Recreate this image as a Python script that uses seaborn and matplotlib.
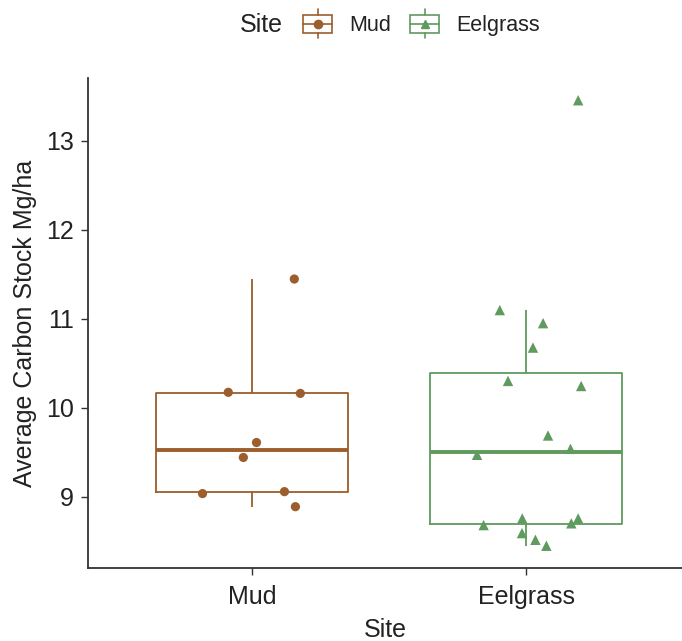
import numpy as np
import pandas as pd
import matplotlib
matplotlib.use("Agg")
import matplotlib.pyplot as plt
from matplotlib.legend_handler import HandlerBase
from matplotlib.patches import Rectangle
from matplotlib.lines import Line2D
import seaborn as sns

# ---- data ----
sites = ["Mud", "Eelgrass"]
mud_values = [11.445, 10.172, 10.160, 9.608, 9.440, 9.034, 9.056, 8.887]
mud_jitter = [0.153, -0.088, 0.175, 0.015, -0.033, -0.182, 0.117, 0.157]
eelgrass_values = [13.454, 11.096, 10.949, 10.675, 10.300, 10.243, 9.687, 9.537,
                   9.470, 8.755, 8.680, 8.755, 8.700, 8.590, 8.515, 8.448]
eelgrass_jitter = [0.189, -0.097, 0.061, 0.024, -0.067, 0.200, 0.079, 0.161,
                   -0.180, -0.015, -0.156, 0.189, 0.164, -0.016, 0.033, 0.073]
y_ticks = [9, 10, 11, 12, 13]

colors = {"Mud": "#9B5E2C", "Eelgrass": "#5F9A5F"}
markers = {"Mud": "o", "Eelgrass": "^"}
msizes = {"Mud": 44, "Eelgrass": 56}

df = pd.DataFrame({
    "Site": ["Mud"] * len(mud_values) + ["Eelgrass"] * len(eelgrass_values),
    "Carbon": mud_values + eelgrass_values,
    "jit": mud_jitter + eelgrass_jitter,
})
df["Site"] = pd.Categorical(df["Site"], categories=sites, ordered=True)
df["xpos"] = df["Site"].cat.codes + df["jit"]

sns.set_theme(style="ticks")
plt.rcParams["font.family"] = ["Liberation Sans", "DejaVu Sans"]

fig = plt.figure(figsize=(6.82, 6.41), dpi=100)
W, H = 682, 641
ax = fig.add_axes([88 / W, (H - 568) / H, (W - 88) / W, (568 - 78) / H])

sns.boxplot(data=df, x="Site", y="Carbon", hue="Site", palette=colors, order=sites,
            hue_order=sites, fill=False, width=0.7, showfliers=False, whis=1.5,
            linewidth=1.3, showcaps=False, legend=False, ax=ax,
            medianprops=dict(linewidth=2.8), dodge=False)

for site in sites:
    sub = df[df["Site"] == site]
    ax.scatter(sub["xpos"], sub["Carbon"], marker=markers[site], s=msizes[site],
               color=colors[site], edgecolors="none", zorder=5)

ax.set_xlim(-0.6, 1.568)
ax.set_ylim(8.198, 13.704)
ax.set_yticks(y_ticks)
ax.set_xlabel("Site", fontsize=18, color="#222222", labelpad=7)
ax.set_ylabel("Average Carbon Stock Mg/ha", fontsize=18, color="#222222", labelpad=7)
ax.tick_params(axis="both", labelsize=18, length=5, width=1, color="#333333",
               labelcolor="#222222")
ax.tick_params(axis="x", pad=7)
ax.tick_params(axis="y", pad=5)
for s in ["top", "right"]:
    ax.spines[s].set_visible(False)
for s in ["left", "bottom"]:
    ax.spines[s].set_linewidth(1.3)
    ax.spines[s].set_color("#333333")


class BoxHandler(HandlerBase):
    def __init__(self, color, marker):
        super().__init__()
        self.color = color
        self.marker = marker

    def create_artists(self, legend, orig_handle, xdescent, ydescent, width, height,
                       fontsize, trans):
        c = self.color
        arts = []
        bx0, bx1 = -xdescent + 0.5, -xdescent + width - 0.5
        by0, by1 = -ydescent + height * 0.08, -ydescent + height * 0.92
        arts.append(Rectangle((bx0, by0), bx1 - bx0, by1 - by0, fill=False,
                              edgecolor=c, linewidth=1.2, transform=trans))
        cx = (bx0 + bx1) / 2
        cy = -ydescent + height / 2
        arts.append(Line2D([bx0, bx1], [cy, cy], color=c, linewidth=1.2, transform=trans))
        arts.append(Line2D([cx, cx], [by1, -ydescent + height * 1.2], color=c,
                           linewidth=1.2, transform=trans))
        arts.append(Line2D([cx, cx], [by0, -ydescent - height * 0.15], color=c,
                           linewidth=1.2, transform=trans))
        arts.append(Line2D([cx], [cy], marker=self.marker, color=c, markersize=6,
                           linestyle="none", transform=trans))
        return arts


h_mud = Line2D([], [])
h_eel = Line2D([], [])
leg = fig.legend([h_mud, h_eel], sites, loc="center left",
                 bbox_to_anchor=(287 / W, (H - 25) / H), ncol=2, frameon=False,
                 fontsize=15.5, handlelength=1.44, handleheight=1.12,
                 columnspacing=0.84, handletextpad=0.75, borderpad=0.2,
                 handler_map={h_mud: BoxHandler(colors["Mud"], "o"),
                              h_eel: BoxHandler(colors["Eelgrass"], "^")})
for t in leg.get_texts():
    t.set_color("#222222")
fig.text(240 / W, (H - 25) / H, "Site", fontsize=18, va="center", ha="left",
         color="#222222")

fig.savefig("out.png", dpi=100, facecolor="white")
